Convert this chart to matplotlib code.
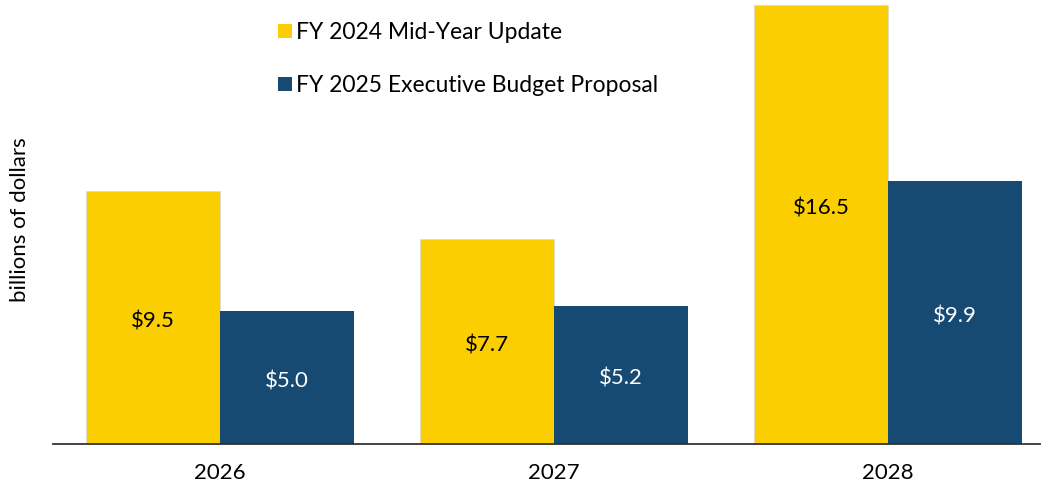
import numpy as np
import matplotlib.pyplot as plt
from matplotlib.patches import Patch

plt.rcParams['font.family'] = ['Lato', 'DejaVu Sans']

years = ['2026', '2027', '2028']
mid_year = [9.5, 7.7, 16.5]
exec_budget = [5.0, 5.2, 9.9]
series_names = ['FY 2024 Mid-Year Update', 'FY 2025 Executive Budget Proposal']

yellow = '#FACE00'
blue = '#174A72'

fig = plt.figure(figsize=(10.42, 4.84), dpi=100)
ax = fig.add_axes([53/1042, 1-444/484, (1040-53)/1042, (444-5)/484])

x = np.arange(len(years))
w = 0.4
b1 = ax.bar(x - w/2, mid_year, w, color=yellow, edgecolor='#d9d9d9', linewidth=0.5)
b2 = ax.bar(x + w/2, exec_budget, w, color=blue, edgecolor='none')

# labels sit mid-bar; the tall one is pulled up a bit like in the original
def label_y(v):
    return v/2 if v < 12 else 9.0

for bars, vals, col in [(b1, mid_year, 'black'), (b2, exec_budget, 'white')]:
    for rect, v in zip(bars, vals):
        ax.annotate(f'${v:.1f}', (rect.get_x() + rect.get_width()/2, label_y(v)),
                    xytext=(0, -3), textcoords='offset points',
                    ha='center', va='center', fontsize=16, color=col)

ax.set_xlim(-0.5, 2.455)
ax.set_ylim(0, 16.5)
ax.set_xticks(x)
ax.set_xticklabels(years, fontsize=16)
ax.tick_params(axis='x', length=0, pad=13.5)
ax.set_yticks([])
for s in ['left', 'right', 'top']:
    ax.spines[s].set_visible(False)
ax.spines['bottom'].set_color('#333333')
ax.spines['bottom'].set_linewidth(1.3)

fig.text(20/1042, 1-220/484, 'billions of dollars', rotation=90,
         ha='center', va='center', fontsize=16)

handles = [Patch(facecolor=yellow), Patch(facecolor=blue)]
fig.legend(handles, series_names, loc='upper left',
           bbox_to_anchor=(269/1042, 1-13/484), frameon=False, fontsize=16.5,
           handlelength=0.6, handleheight=0.6, handletextpad=0.2,
           labelspacing=1.4, borderaxespad=0)

fig.savefig('out.png', dpi=100)
